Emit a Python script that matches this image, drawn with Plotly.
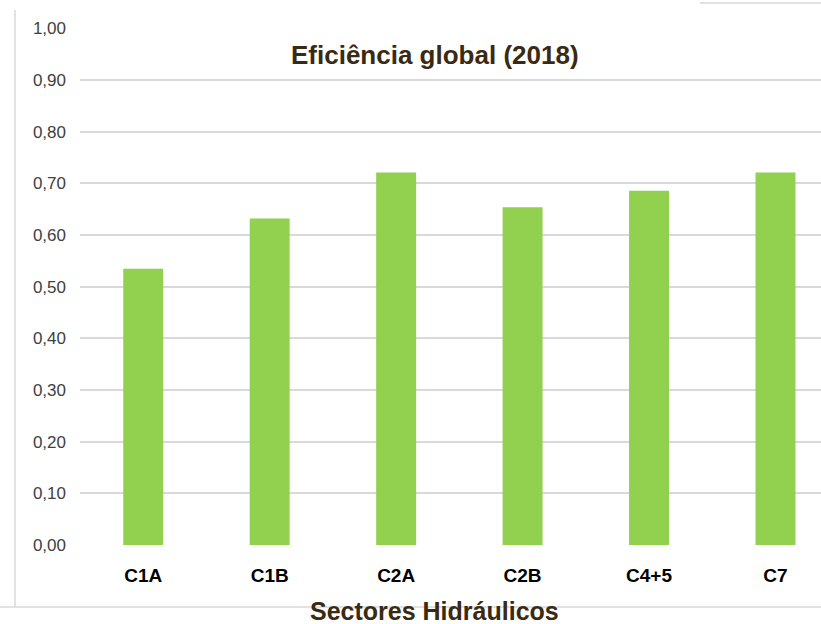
import plotly.graph_objects as go

sectores = ['C1A', 'C1B', 'C2A', 'C2B', 'C4+5', 'C7']
eficiencia = [0.535, 0.632, 0.721, 0.654, 0.686, 0.721]
y_ticks = [0.0, 0.1, 0.2, 0.3, 0.4, 0.5, 0.6, 0.7, 0.8, 0.9, 1.0]

W, H = 821, 624
left, right, top, bottom = 80, 0, 28, 624 - 545

pw, ph = W - left, H - top - bottom


def px(x):
    # page pixel -> paper x
    return (x - left) / pw


def py(y):
    # page pixel -> paper y
    return 1 - (y - top) / ph


brown = '#3a2a12'

fig = go.Figure(go.Bar(x=list(range(len(sectores))), y=eficiencia,
                       marker=dict(color='#92D050', line_width=0),
                       width=0.316))

fig.update_layout(
    width=W, height=H,
    margin=dict(l=left, r=right, t=top, b=bottom),
    paper_bgcolor='white', plot_bgcolor='white',
    separators=',.',
    showlegend=False,
    font=dict(family='Liberation Sans, Arial, sans-serif', color='#404040'),
    xaxis=dict(range=[-0.5, 5.36],
               tickvals=list(range(len(sectores))), ticktext=sectores,
               tickfont=dict(size=19, color='black', weight='bold'),
               ticks='', showgrid=False, zeroline=False, ticklabelstandoff=17),
    yaxis=dict(range=[0, 1.001], tickvals=y_ticks, tickformat='.2f',
               tickfont=dict(size=17, color='#404040'),
               showgrid=True, gridcolor='#d9d9d9', gridwidth=1.5,
               zeroline=False, ticks='', ticklabelstandoff=13),
)

fig.add_annotation(text='Eficiência global (2018)', xref='paper', yref='paper',
                   x=px(435), y=py(55),
                   xanchor='center', yanchor='middle', showarrow=False,
                   font=dict(size=26, color=brown, weight='bold'))
fig.add_annotation(text='Sectores Hidráulicos', xref='paper', yref='paper',
                   x=px(434), y=py(611),
                   xanchor='center', yanchor='middle', showarrow=False,
                   font=dict(size=25, color=brown, weight='bold'))

# frame lines of the original picture
line = dict(color='#d9d9d9', width=1.5)
fig.add_shape(type='line', xref='paper', yref='paper',
              x0=px(15), x1=px(15), y0=py(10), y1=py(607), line=line)
fig.add_shape(type='line', xref='paper', yref='paper',
              x0=px(0), x1=px(821), y0=py(607), y1=py(607), line=line)
fig.add_shape(type='line', xref='paper', yref='paper',
              x0=px(700), x1=px(821), y0=py(3), y1=py(3), line=line)

# drop the default page margin so the figure fills the window
fig.write_html('out.html',
               config=dict(displayModeBar=False),
               post_script="document.body.style.margin='0';"
                           "document.body.style.overflow='hidden';")
